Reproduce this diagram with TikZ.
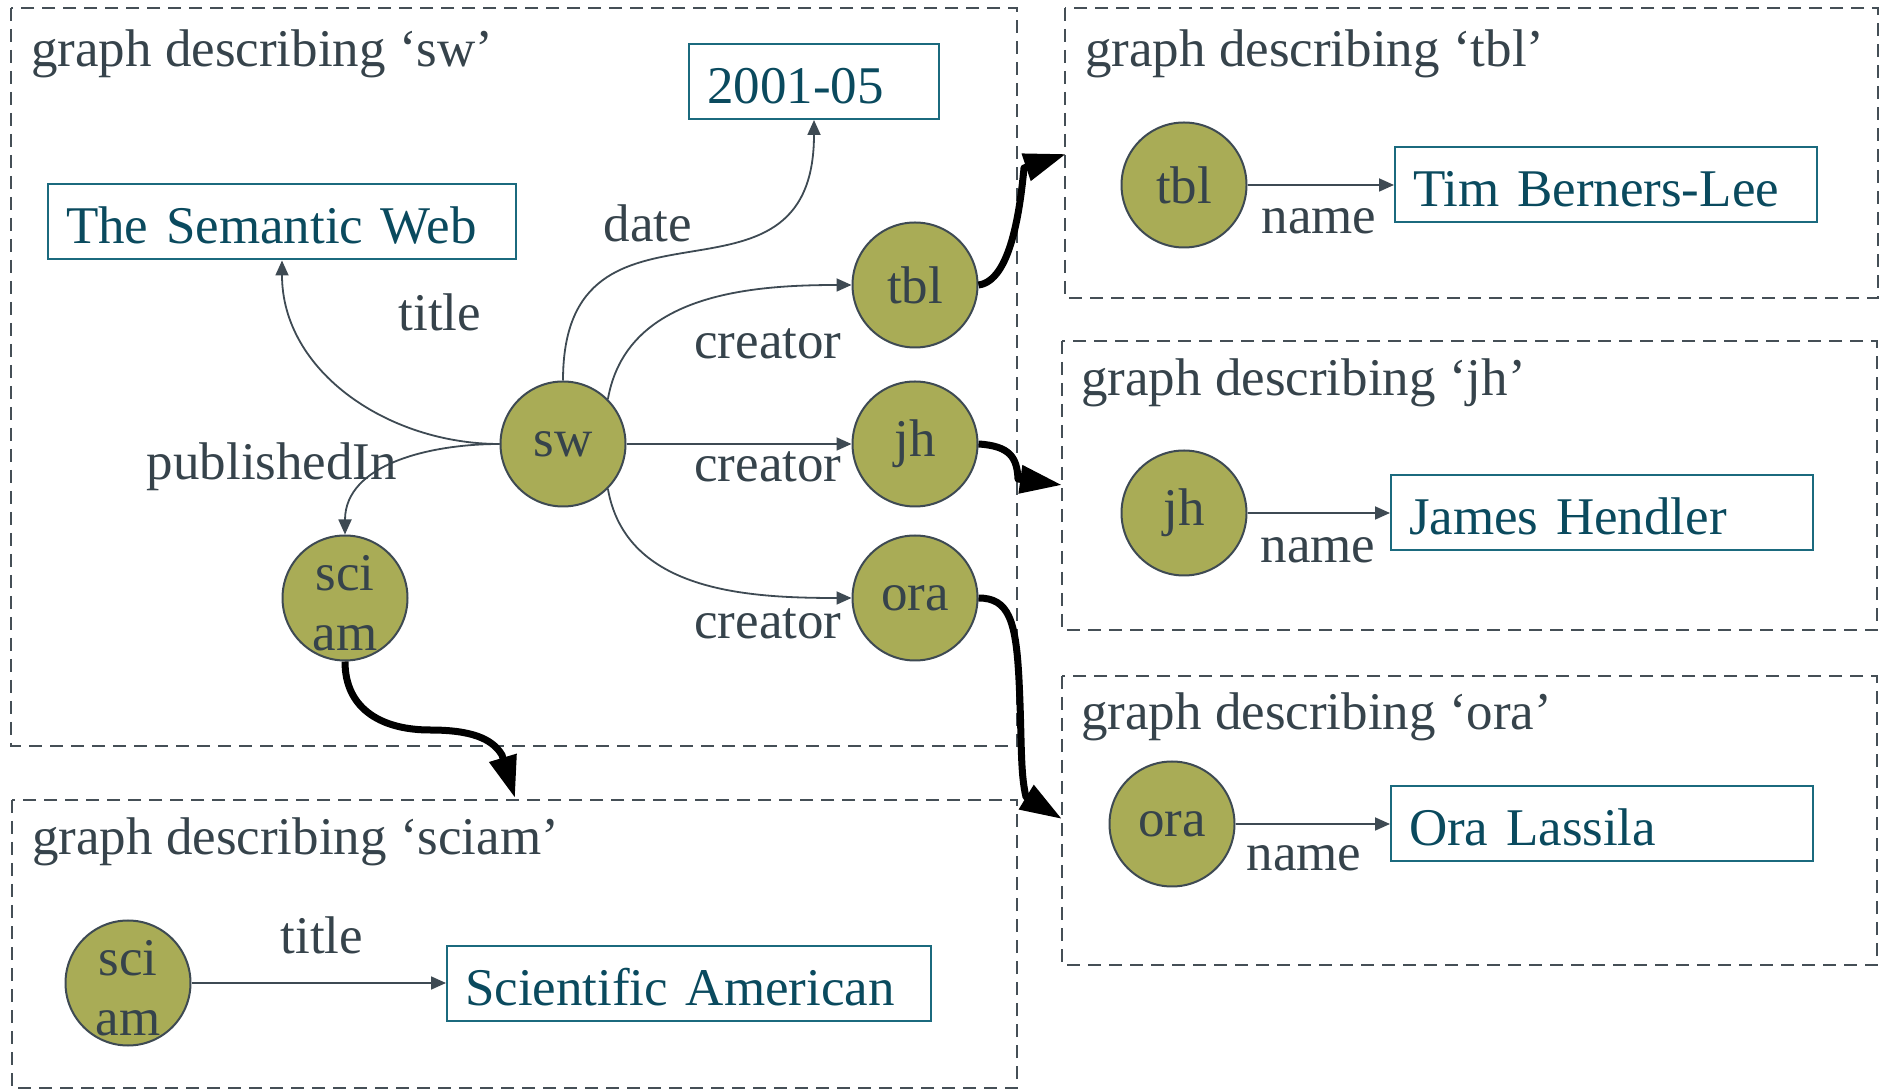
\documentclass[tikz,border=0pt]{standalone}
\usepackage{fontspec}
\setmainfont{Liberation Serif}
\usetikzlibrary{arrows.meta}

\definecolor{nodefill}{HTML}{A9AC56}
\definecolor{nodeline}{HTML}{3E4A53}
\definecolor{ink}{HTML}{36434B}
\definecolor{boxline}{HTML}{1B6A7E}
\definecolor{boxink}{HTML}{0A4A5E}
\definecolor{frame}{HTML}{454F56}

\begin{document}
\begin{tikzpicture}[x=1pt,y=1pt,
  every node/.style={font=\fontsize{53}{60}\selectfont},
  res/.style={circle, draw=nodeline, line width=2pt, fill=nodefill, text=ink,
    minimum size=125pt, inner sep=0pt},
  lit/.style={rectangle, draw=boxline, line width=2pt, text=boxink,
    minimum height=75pt, inner xsep=18pt, inner ysep=0pt, align=left,
    text height=44pt, text depth=0pt},
  lbl/.style={text=ink, inner sep=0pt},
  graphbox/.style={draw=frame, line width=2.2pt, dash pattern=on 13pt off 8pt},
  prop/.style={draw=nodeline, line width=1.8pt, -{Triangle[length=15pt,width=13pt]}},
  link/.style={draw=black, line width=7pt, line join=round,
    -{Triangle[length=42pt,width=27pt]}},
]
\useasboundingbox (0,0) rectangle (1879,1090);

% named graph frames
\draw[graphbox] (11,1082) rectangle (1017,344);
\draw[graphbox] (12,290) rectangle (1017,2);
\draw[graphbox] (1065,1082) rectangle (1878,792);
\draw[graphbox] (1062,749) rectangle (1877,460);
\draw[graphbox] (1062,414) rectangle (1877,125);

% frame headings
\node[lbl, anchor=west] (hsw)  at (31,1036)  {graph describing ‘sw’};
\node[lbl, anchor=west] (htbl) at (1085,1036) {graph describing ‘tbl’};
\node[lbl, anchor=west] (hjh)  at (1081,707)  {graph describing ‘jh’};
\node[lbl, anchor=west] (hora) at (1081,373)  {graph describing ‘ora’};
\node[lbl, anchor=west] (hsci) at (32,248)    {graph describing ‘sciam’};

% graph for sw
\node[res] (sw)   at (563,646) {sw};
\node[res] (tblA) at (915,805) {tbl};
\node[res] (jhA)  at (915,646) {jh};
\node[res] (oraA) at (915,492) {ora};
\node[res, label={[lbl, align=center, yshift=-5pt]center:sci\\am}] (sciA) at (345,492) {};
\node[lit, text width=214pt] (date)   at (814,1008.5) {2001-05};
\node[lit, text width=432pt] (semweb) at (282,868)    {The Semantic Web};

\draw[prop] (sw.west) to[out=180,in=-90] (semweb.south);
\draw[prop] (sw.west) to[out=180,in=90] (sciA.north);
\draw[prop] (sw.north) to[out=90,in=-90,looseness=1.5] (date.south);
\draw[prop] (sw.45) to[out=80,in=180] (tblA.west);
\draw[prop] (sw.east) -- (jhA.west);
\draw[prop] (sw.-45) to[out=-80,in=180] (oraA.west);

\node[lbl] (ltitle) at (440,778) {title};
\node[lbl] (lpub)   at (272,623) {publishedIn};
\node[lbl] (ldate)  at (648,867) {date};
\node[lbl] (lcr1)   at (768,746) {creator};
\node[lbl] (lcr2)   at (768,623) {creator};
\node[lbl] (lcr3)   at (768,466) {creator};

% graphs for tbl, jh, ora
\node[res] (tblB) at (1184,905) {tbl};
\node[lit, text width=386pt] (tim) at (1606,905) {Tim Berners-Lee};
\draw[prop] (tblB.east) -- (tim.west);
\node[lbl] (ln1) at (1319,869) {name};

\node[res] (jhB) at (1184,577) {jh};
\node[lit, text width=386pt] (james) at (1602,577) {James Hendler};
\draw[prop] (jhB.east) -- (james.west);
\node[lbl] (ln2) at (1318,540) {name};

\node[res] (oraB) at (1172,266) {ora};
\node[lit, text width=386pt] (oral) at (1602,266) {Ora Lassila};
\draw[prop] (oraB.east) -- (oral.west);
\node[lbl] (ln3) at (1304,232) {name};

% graph for sciam
\node[res, label={[lbl, align=center, yshift=-5pt]center:sci\\am}] (sciB) at (128,107) {};
\node[lit, text width=448pt] (sciam) at (689,107) {Scientific American};
\draw[prop] (sciB.east) -- (sciam.west);
\node[lbl] (lt2) at (322,155) {title};

% links from resources to the graphs describing them
\draw[link] (tblA.east) .. controls +(32,4) and (1020,880) .. (1024,922) -- (1066,936);
\draw[link] (jhA.east) .. controls +(32,-2) and (1017,632) .. (1018,611) -- (1062,605);
\draw[link] (oraA.east) .. controls +(30,0) and (1016,470) .. (1019,410)
  .. controls (1022,350) and (1020,318) .. (1026,293) -- (1062,271);
\draw[link] (sciA.south) .. controls +(0,-50) and (385,360) .. (430,360)
  .. controls (470,360) and (492,352) .. (502,335) -- (515,292);
\end{tikzpicture}
\end{document}
